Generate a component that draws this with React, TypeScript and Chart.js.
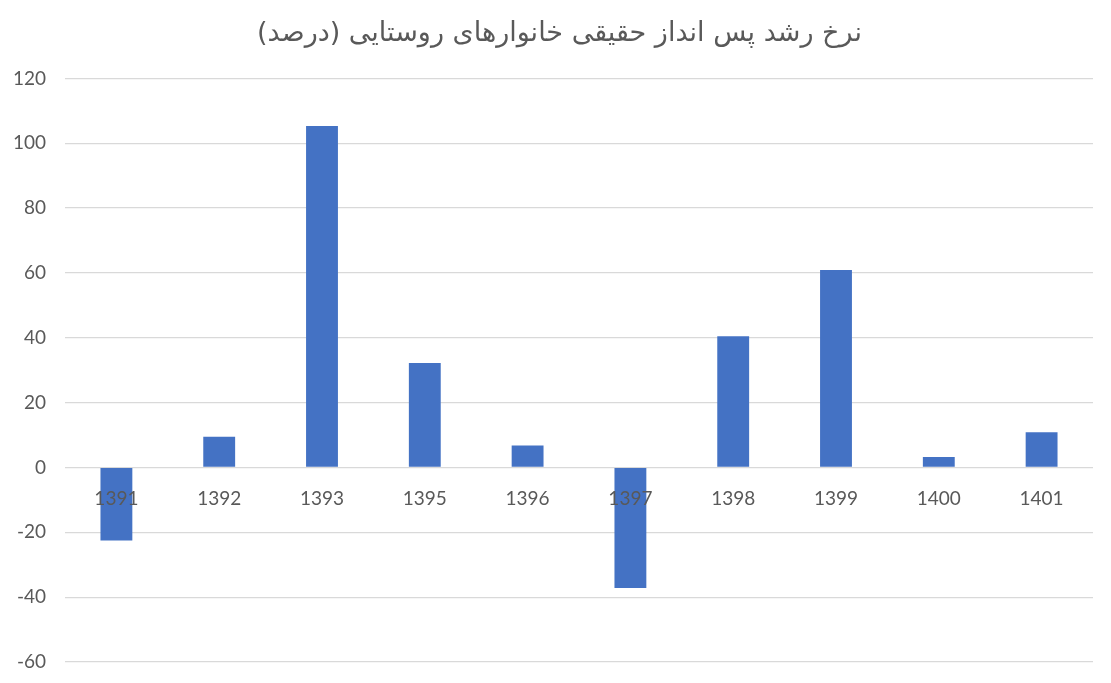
import { useEffect, useRef } from 'react';
import { Chart, ChartConfiguration, registerables } from 'chart.js';

Chart.register(...registerables);

const chartTitle = 'نرخ رشد پس انداز حقیقی خانوارهای روستایی (درصد)';
const years = ['1391', '1392', '1393', '1395', '1396', '1397', '1398', '1399', '1400', '1401'];
const growthRates = [-22.5, 9.5, 105.3, 32.2, 6.8, -37.2, 40.5, 60.9, 3.2, 10.9];

const textColor = '#595959';
const gridColor = '#d9d9d9';
const barColor = '#4472c4';

export default function App() {
  const canvasRef = useRef<HTMLCanvasElement>(null);
  const chartRef = useRef<Chart | null>(null);

  useEffect(() => {
    if (!canvasRef.current) return;
    document.body.style.margin = '0';

    if (chartRef.current) {
      chartRef.current.destroy();
    }

    const ctx = canvasRef.current.getContext('2d');
    if (!ctx) return;

    const config: ChartConfiguration = {
      type: 'bar',
      data: {
        labels: years,
        datasets: [
          {
            label: chartTitle,
            data: growthRates,
            backgroundColor: barColor,
            barPercentage: 0.31,
            categoryPercentage: 1
          }
        ]
      },
      options: {
        responsive: false,
        animation: false,
        layout: {
          padding: { left: 8, right: 0, top: 0, bottom: 21 }
        },
        plugins: {
          title: {
            display: true,
            text: chartTitle,
            color: textColor,
            font: { family: '"DejaVu Sans", sans-serif', size: 27, weight: 'normal' },
            padding: { top: 18, bottom: 28 }
          },
          legend: { display: false },
          tooltip: { enabled: false }
        },
        scales: {
          x: {
            position: { y: 0 },
            grid: { display: false, drawTicks: false },
            border: { display: false },
            ticks: {
              z: 1,
              color: textColor,
              padding: 20,
              font: { family: 'Lato, "Open Sans", sans-serif', size: 19 }
            },
            afterFit: (scale: any) => {
              scale.height = 0;
              scale.paddingTop = 0;
              scale.paddingBottom = 0;
              scale.paddingLeft = 0;
              scale.paddingRight = 18;
            }
          },
          y: {
            min: -60,
            max: 120,
            grid: { color: gridColor, lineWidth: 1.3, drawTicks: false },
            border: { display: false },
            ticks: {
              stepSize: 20,
              color: textColor,
              padding: 19,
              font: { family: 'Lato, "Open Sans", sans-serif', size: 19 }
            },
            afterFit: (scale: any) => {
              scale.width = 57;
              scale.paddingTop = 0;
              scale.paddingBottom = 0;
            }
          }
        }
      }
    } as ChartConfiguration;

    chartRef.current = new Chart(ctx, config);

    return () => {
      if (chartRef.current) {
        chartRef.current.destroy();
        chartRef.current = null;
      }
    };
  }, []);

  return (
    <div style={{ width: 1111, height: 683, background: '#ffffff' }}>
      <canvas ref={canvasRef} width={1111} height={683}></canvas>
    </div>
  );
}
